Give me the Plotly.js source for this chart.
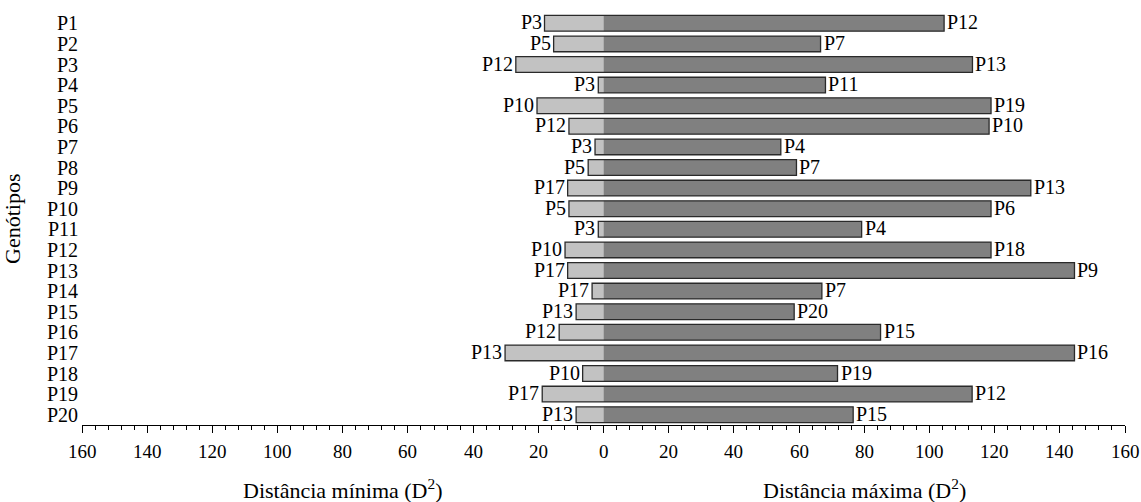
<!DOCTYPE html>
<html>
<head>
<meta charset="utf-8">
<script src="https://cdn.plot.ly/plotly-3.0.1.min.js"></script>
<style>
body{margin:0;}
#chart svg text{font-family:'Liberation Serif','Times New Roman',serif !important;}
</style>
</head>
<body>
<div id="chart"></div>
<script>
const genotypes = ["P1","P2","P3","P4","P5","P6","P7","P8","P9","P10","P11","P12","P13","P14","P15","P16","P17","P18","P19","P20"];
const minDist = [18.1,15.3,26.9,1.6,20.4,10.6,2.6,4.7,11.0,10.6,1.6,11.8,11.0,3.5,8.4,13.6,30.2,6.4,18.8,8.4];
const maxDist = [104.5,66.6,113.2,68.1,118.9,118.3,54.4,59.2,131.1,118.9,79.2,118.9,144.5,67.0,58.5,85.0,144.5,71.8,113.1,76.6];
const minLabels = ["P3","P5","P12","P3","P10","P12","P3","P5","P17","P5","P3","P10","P17","P17","P13","P12","P13","P10","P17","P13"];
const maxLabels = ["P12","P7","P13","P11","P19","P10","P4","P7","P13","P6","P4","P18","P9","P7","P20","P15","P16","P19","P12","P15"];
const tickValues = [-160,-140,-120,-100,-80,-60,-40,-20,0,20,40,60,80,100,120,140,160];
const tickLabels = ["160","140","120","100","80","60","40","20","0","20","40","60","80","100","120","140","160"];

const FAM = 'Times New Roman';
const bw = 0.76;
const negMin = minDist.map(v => -v);
const total = minDist.map((v,i) => v + maxDist[i]);

const traces = [
  {type:'bar', orientation:'h', y:genotypes, x:negMin, base:0, width:bw,
   marker:{color:'#c2c2c2', line:{width:0}}, hoverinfo:'skip', showlegend:false},
  {type:'bar', orientation:'h', y:genotypes, x:maxDist, base:0, width:bw,
   marker:{color:'#808080', line:{width:0}}, hoverinfo:'skip', showlegend:false},
  {type:'bar', orientation:'h', y:genotypes, x:total, base:negMin, width:bw,
   marker:{color:'rgba(0,0,0,0)', line:{width:1.3, color:'#2a2a2a'}}, hoverinfo:'skip', showlegend:false}
];

const ann = [];
tickValues.forEach((v,i) => ann.push({xref:'x', yref:'paper', x:v, y:0, yshift:-26, yanchor:'middle', xanchor:'center',
  showarrow:false, text:tickLabels[i], font:{family:FAM, size:19, color:'#000'}}));
genotypes.forEach(g => ann.push({xref:'paper', yref:'y', x:0, y:g, xshift:-2, xanchor:'right', yanchor:'middle',
  showarrow:false, text:g, font:{family:FAM, size:20, color:'#000'}}));
genotypes.forEach((g,i) => ann.push({xref:'x', yref:'y', x:negMin[i], y:g, xshift:-1, yshift:1, xanchor:'right', yanchor:'middle',
  showarrow:false, text:minLabels[i], font:{family:FAM, size:20, color:'#000'}}));
genotypes.forEach((g,i) => ann.push({xref:'x', yref:'y', x:maxDist[i], y:g, xshift:1, yshift:1, xanchor:'left', yanchor:'middle',
  showarrow:false, text:maxLabels[i], font:{family:FAM, size:20, color:'#000'}}));
ann.push({xref:'paper', yref:'paper', x:0, y:0.5, xshift:-70, xanchor:'center', yanchor:'middle', textangle:-90, showarrow:false,
  text:'Genótipos', font:{family:FAM, size:22, color:'#000'}});
ann.push({xref:'x', yref:'paper', x:-80, y:0, yshift:-64, yanchor:'middle', showarrow:false,
  text:'Distância mínima (D<sup>2</sup>)', font:{family:FAM, size:22, color:'#000'}});
ann.push({xref:'x', yref:'paper', x:80, y:0, yshift:-64, yanchor:'middle', showarrow:false,
  text:'Distância máxima (D<sup>2</sup>)', font:{family:FAM, size:22, color:'#000'}});

const layout = {
  width:1141, height:502,
  margin:{l:82, r:16, t:13, b:77},
  barmode:'overlay',
  xaxis:{
    range:[-160,160], showgrid:false, zeroline:false,
    showline:true, linecolor:'#000', linewidth:1,
    ticks:'outside', ticklen:7, tickcolor:'#000', tickwidth:1,
    tickmode:'array', tickvals:tickValues, showticklabels:false,
    minor:{tickmode:'linear', tick0:0, dtick:4, ticks:'outside', ticklen:4, tickcolor:'#000', tickwidth:1, showgrid:false}
  },
  yaxis:{
    type:'category', categoryorder:'array', categoryarray:genotypes,
    range:[19.5,-0.5], autorange:false, showgrid:false, zeroline:false, showline:false,
    ticks:'', showticklabels:false
  },
  annotations:ann
};

Plotly.newPlot('chart', traces, layout, {displayModeBar:false});
</script>
</body>
</html>
